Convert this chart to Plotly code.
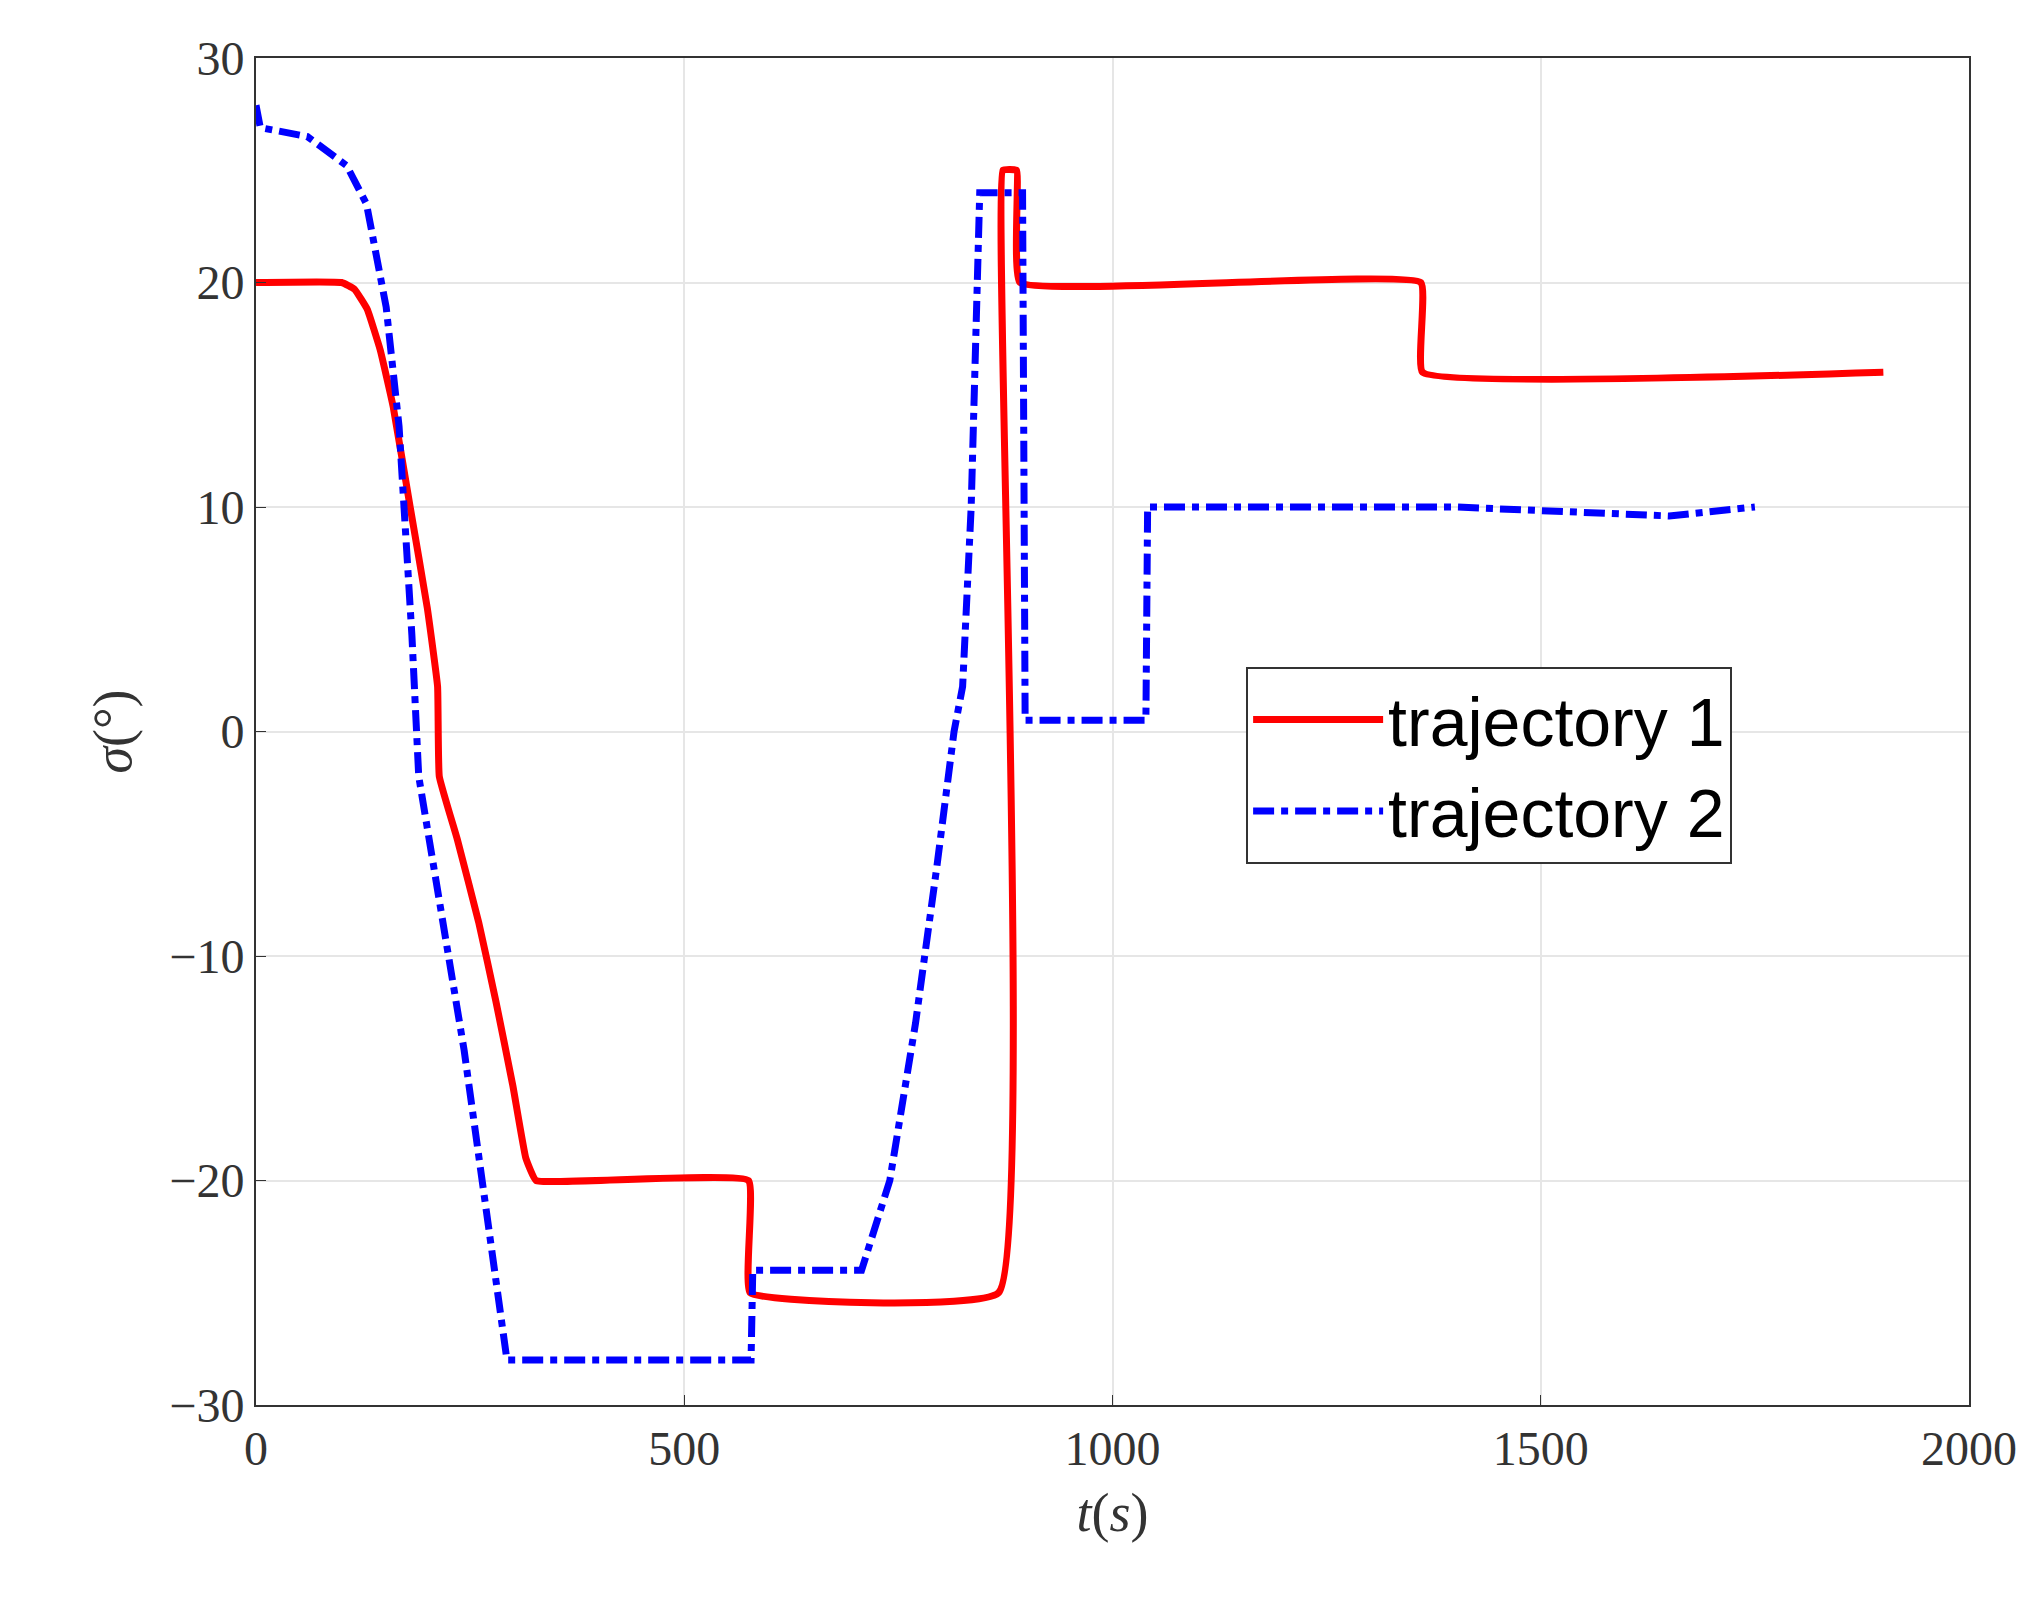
import plotly.graph_objects as go

t1 = [0, 100, 115, 130, 145, 160, 180, 200, 212, 214, 235, 260, 280, 300, 315, 327, 575, 577, 867, 872, 888, 892, 1360, 1362, 1900]
s1 = [20, 20, 19.7, 18.8, 17, 14.5, 10, 5.5, 2, -2, -4.8, -8.5, -12, -15.8, -19, -20, -20, -25, -25, 25, 25, 20, 20, 16, 16]

t2 = [0, 5, 60, 106, 129, 152, 167, 182, 190, 243, 293, 578, 580, 707, 740, 770, 795, 815, 825, 835, 845, 895, 898, 1039, 1041, 1400, 1650, 1750]
s2 = [27.9, 26.9, 26.5, 25.2, 23.5, 18.9, 13.6, 4.3, -2, -14.2, -28, -28, -24, -24, -20, -13, -6, 0, 2, 10, 24, 24, 0.5, 0.5, 10, 10, 9.6, 10]

xticks = [0, 500, 1000, 1500, 2000]
yticks = [-30, -20, -10, 0, 10, 20, 30]
ylabels = ["\u221230", "\u221220", "\u221210", "0", "10", "20", "30"]

fig = go.Figure()
fig.add_trace(go.Scatter(x=t1, y=s1, mode="lines", name="trajectory 1",
                         line=dict(color="#ff0000", width=7, shape="spline", smoothing=0.3)))
fig.add_trace(go.Scatter(x=t2, y=s2, mode="lines", name="trajectory 2",
                         line=dict(color="#0000ff", width=7, dash="dashdot")))

axis_common = dict(showgrid=True, gridcolor="#e6e6e6", gridwidth=2,
                   showline=True, linecolor="#333333", linewidth=2, mirror=True,
                   ticks="inside", ticklen=10, tickcolor="#333333", zeroline=False,
                   tickfont=dict(family="Liberation Serif", size=48, color="#333333"))

fig.update_layout(
    width=2043, height=1613,
    paper_bgcolor="white", plot_bgcolor="white",
    margin=dict(l=248, r=82, t=50, b=216),
    showlegend=True,
    legend=dict(x=0.578, y=0.548, xanchor="left", yanchor="top",
                bgcolor="white", bordercolor="#333333", borderwidth=2,
                font=dict(family="Liberation Sans", size=68, color="black"),
                itemwidth=130),
    xaxis=dict(range=[0, 2000], tickvals=xticks,
               title=dict(text="<i>t</i>(<i>s</i>)", standoff=20,
                          font=dict(family="Liberation Serif", size=54, color="#333333")),
               **axis_common),
    yaxis=dict(range=[-30, 30], tickvals=yticks, ticktext=ylabels,
               title=dict(text="<i>\u03c3</i>(\u00b0)", standoff=20,
                          font=dict(family="Liberation Serif", size=54, color="#333333")),
               **axis_common),
)

fig.write_html("out.html")
